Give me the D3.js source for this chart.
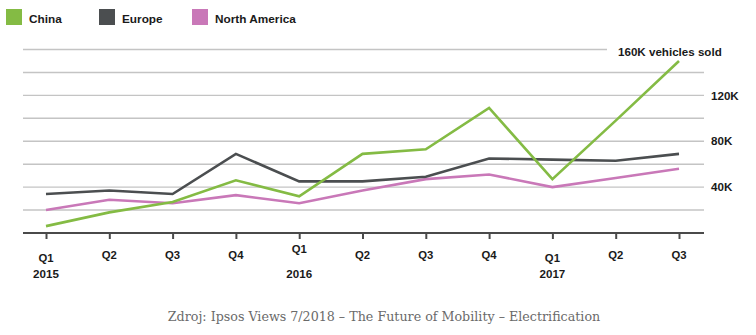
<!DOCTYPE html>
<html>
<head>
<meta charset="utf-8">
<script src="https://cdn.jsdelivr.net/npm/d3@7"></script>
<style>
  html, body { margin: 0; padding: 0; background: #fff; }
  svg { display: block; }
</style>
</head>
<body>
<svg id="chart" width="756" height="335"></svg>
<script>
// Quarterly EV sales, thousands of vehicles
const quarters = ["Q1", "Q2", "Q3", "Q4", "Q1", "Q2", "Q3", "Q4", "Q1", "Q2", "Q3"];
const years = ["2015", "", "", "", "2016", "", "", "", "2017", "", ""];
const china = [6, 18, 27, 46, 32, 69, 73, 109, 47, 98, 150];
const europe = [34, 37, 34, 69, 45, 45, 49, 65, 64, 63, 69];
const northAmerica = [20, 29, 26, 33, 26, 37, 47, 51, 40, 48, 56];
const seriesNames = ["China", "Europe", "North America"];
const seriesColors = ["#84bb44", "#4b4e50", "#c978b8"];
const gridValues = [20, 40, 60, 80, 100, 120, 140, 160];
const labelValues = [40, 80, 120];
const labelTexts = ["40K", "80K", "120K"];
const topLabel = "160K vehicles sold";
const source = "Zdroj: Ipsos Views 7/2018 \u2013 The Future of Mobility \u2013 Electrification";

const svg = d3.select("#chart");
const FONT = "'Liberation Sans', Arial, Helvetica, sans-serif";

const x = d3.scalePoint().domain(d3.range(quarters.length)).range([46, 679]);
const y = d3.scaleLinear().domain([0, 160]).range([233, 49.5]);
const plotLeft = 23, plotRight = 704;

// horizontal gridlines (top one is shortened to leave room for its label)
svg.append("g").selectAll("line")
  .data(gridValues)
  .join("line")
  .attr("x1", plotLeft)
  .attr("x2", d => d === 160 ? 607 : plotRight)
  .attr("y1", d => y(d))
  .attr("y2", d => y(d))
  .attr("stroke", "#c4c4c4")
  .attr("stroke-width", 1.4);

// value labels on the right
svg.append("g").selectAll("text")
  .data(labelValues)
  .join("text")
  .attr("x", 711)
  .attr("y", d => y(d))
  .attr("dy", "0.36em")
  .attr("font-family", FONT)
  .attr("font-weight", "bold")
  .attr("font-size", 11.6)
  .attr("fill", "#1a1a1a")
  .text((d, i) => labelTexts[i]);

svg.append("text")
  .attr("x", 618)
  .attr("y", y(160) + 2)
  .attr("dy", "0.36em")
  .attr("font-family", FONT)
  .attr("font-weight", "bold")
  .attr("font-size", 11.6)
  .attr("fill", "#1a1a1a")
  .text(topLabel);

// series lines
const line = d3.line().x((d, i) => x(i)).y(d => y(d));
const allSeries = [northAmerica, europe, china];
const allColors = [seriesColors[2], seriesColors[1], seriesColors[0]];
svg.append("g").selectAll("path")
  .data(allSeries)
  .join("path")
  .attr("d", d => line(d))
  .attr("fill", "none")
  .attr("stroke", (d, i) => allColors[i])
  .attr("stroke-width", 2.6)
  .attr("stroke-linejoin", "miter");

// x axis with tick marks
const xAxis = d3.axisBottom(x).tickSize(6).tickFormat("");
const gx = svg.append("g").attr("transform", `translate(0,${y(0)})`).call(xAxis);
gx.select(".domain").remove();
gx.selectAll(".tick line").attr("stroke", "#4a4a4a").attr("stroke-width", 2);
svg.append("line")
  .attr("x1", plotLeft).attr("x2", plotRight)
  .attr("y1", y(0)).attr("y2", y(0))
  .attr("stroke", "#4a4a4a").attr("stroke-width", 2);

// quarter labels; the first quarter of 2016 sits a little higher
const qY = i => (i === 4 ? 249 : (i === 0 || i === 8 ? 258 : 255));
svg.append("g").selectAll("text")
  .data(quarters)
  .join("text")
  .attr("x", (d, i) => x(i))
  .attr("y", (d, i) => qY(i))
  .attr("dy", "0.36em")
  .attr("text-anchor", "middle")
  .attr("font-family", FONT)
  .attr("font-weight", "bold")
  .attr("font-size", 11.3)
  .attr("fill", "#1a1a1a")
  .text(d => d);

svg.append("g").selectAll("text")
  .data(years)
  .join("text")
  .attr("x", (d, i) => x(i))
  .attr("y", 273.5)
  .attr("dy", "0.36em")
  .attr("text-anchor", "middle")
  .attr("font-family", FONT)
  .attr("font-weight", "bold")
  .attr("font-size", 11.6)
  .attr("fill", "#1a1a1a")
  .text(d => d);

// legend
const legendX = [6, 99, 192];
const lg = svg.append("g").selectAll("g")
  .data(seriesNames)
  .join("g")
  .attr("transform", (d, i) => `translate(${legendX[i]},9)`);
lg.append("rect").attr("width", 16).attr("height", 16)
  .attr("fill", (d, i) => seriesColors[i]);
lg.append("text")
  .attr("x", 23).attr("y", 13.5)
  .attr("font-family", FONT)
  .attr("font-weight", "bold")
  .attr("font-size", 11.8)
  .attr("fill", "#1a1a1a")
  .text(d => d);

// source line
const src = svg.append("text")
  .attr("x", 384)
  .attr("y", 320.5)
  .attr("text-anchor", "middle")
  .attr("font-family", "'DejaVu Serif', 'Liberation Serif', serif")
  .attr("font-size", 13)
  .attr("fill", "#6a6a6a")
  .text(source);
const w = src.node().getComputedTextLength();
src.attr("font-size", 13 * 433 / w);
</script>
</body>
</html>
